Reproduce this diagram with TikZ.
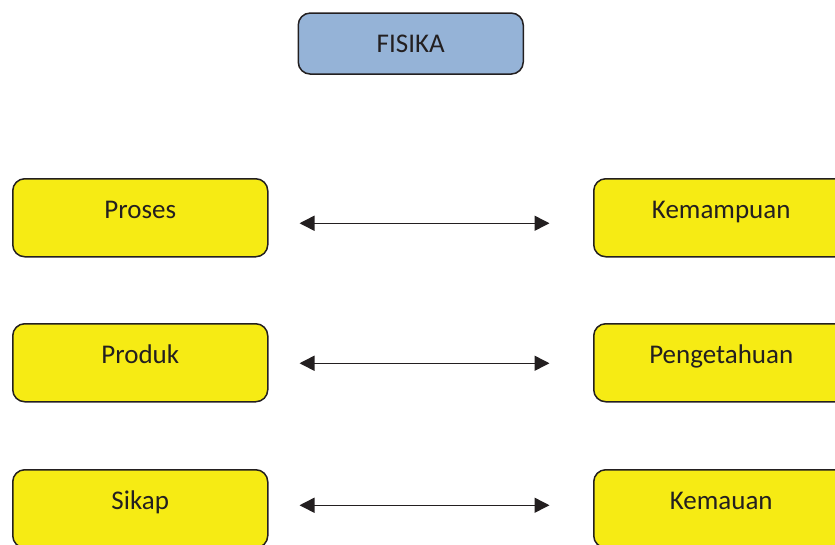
\documentclass[tikz,border=0pt]{standalone}
\usepackage{fontspec}
\setmainfont{Carlito}
\usetikzlibrary{arrows.meta}
\definecolor{boxyellow}{HTML}{F6EB14}
\definecolor{boxblue}{HTML}{95B3D7}
\definecolor{ink}{HTML}{231F20}
\begin{document}
\begin{tikzpicture}[x=1pt,y=1pt,
  base/.style={draw=ink, line width=1.5pt, rounded corners=12pt, inner sep=0pt,
    text=ink, font=\fontsize{27}{30}\selectfont, anchor=north west},
  yellowbox/.style={base, fill=boxyellow, minimum width=255pt,
    text height=40pt, text depth=38pt, text width=255pt, align=center},
  bluebox/.style={base, fill=boxblue, minimum width=225pt,
    text height=39.4pt, text depth=21.6pt, text width=225pt, align=center},
  arr/.style={draw=ink, line width=1.5pt, {Triangle[length=15pt,width=15pt]}-{Triangle[length=15pt,width=15pt]}}
]
\useasboundingbox (0,0) rectangle (835,-544);
\node[bluebox] (fisika) at (297.5,-12.3) {FISIKA};
\node[yellowbox] (proses) at (12,-178) {Proses};
\node[yellowbox] (produk) at (12,-323) {Produk};
\node[yellowbox] (sikap) at (12,-469) {Sikap};
\node[yellowbox] (kemampuan) at (593,-178) {Kemampuan};
\node[yellowbox] (pengetahuan) at (593,-323) {Pengetahuan};
\node[yellowbox] (kemauan) at (593,-469) {Kemauan};
\draw[arr, shorten <=31pt, shorten >=43.5pt] ([yshift=-5.5pt]proses.east) -- ([yshift=-5.5pt]kemampuan.west);
\draw[arr, shorten <=31pt, shorten >=43.5pt] ([yshift=-0.5pt]produk.east) -- ([yshift=-0.5pt]pengetahuan.west);
\draw[arr, shorten <=31pt, shorten >=43.5pt] ([yshift=3.5pt]sikap.east) -- ([yshift=3.5pt]kemauan.west);
\end{tikzpicture}
\end{document}
